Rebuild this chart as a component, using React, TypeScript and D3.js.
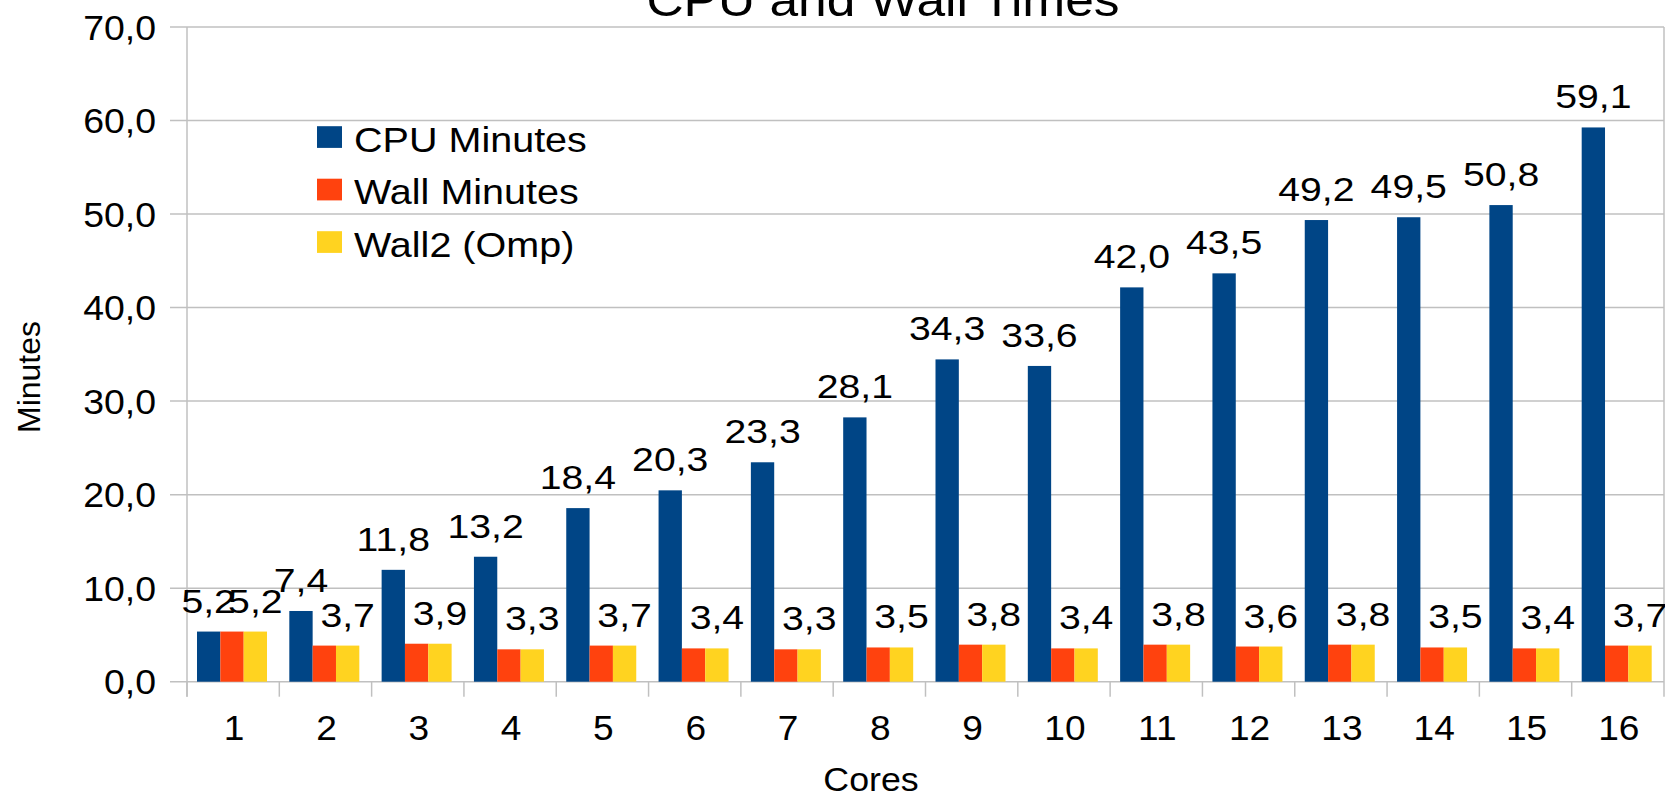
import React from "react";
import * as d3 from "d3";

const categories = ["1","2","3","4","5","6","7","8","9","10","11","12","13","14","15","16"];
const cpuMinutes = [5.2, 7.4, 11.8, 13.2, 18.4, 20.3, 23.3, 28.1, 34.3, 33.6, 42.0, 43.5, 49.2, 49.5, 50.8, 59.1];
const wallMinutes = [5.2, 3.7, 3.9, 3.3, 3.7, 3.4, 3.3, 3.5, 3.8, 3.4, 3.8, 3.6, 3.8, 3.5, 3.4, 3.7];
const wall2Omp = [5.2, 3.7, 3.9, 3.3, 3.7, 3.4, 3.3, 3.5, 3.8, 3.4, 3.8, 3.6, 3.8, 3.5, 3.4, 3.7];
const seriesNames = ["CPU Minutes", "Wall Minutes", "Wall2 (Omp)"];
const seriesColors = ["#004586", "#ff420e", "#ffd320"];
const yTicks = [0, 10, 20, 30, 40, 50, 60, 70];
const labelledSeries = [0, 2];

const W = 1665;
const H = 792;
const FONT = "'Liberation Sans', Arial, sans-serif";

export default function App() {
  const left = 187;
  const right = 1664;
  const top = 27;
  const bottom = 681.7;
  const y = d3.scaleLinear().domain([0, 70]).range([bottom, top]);
  const x = d3.scaleBand<string>().domain(categories).range([left, right]).paddingInner(0).paddingOuter(0);
  const step = x.step();
  const groupOffset = 10;
  const groupWidth = 70;
  const inner = d3.scaleBand<number>().domain([0, 1, 2]).range([0, groupWidth]).padding(0);
  const series = [cpuMinutes, wallMinutes, wall2Omp];
  const fmt = (v: number) => d3.format(".1f")(v).replace(".", ",");
  const grid = "#c0c0c0";

  return (
    <svg width={W} height={H} style={{ position: "absolute", left: 0, top: 0, background: "#fff" }} fontFamily={FONT}>
      <rect x={0} y={0} width={W} height={H} fill="#fff" />
      {yTicks.map((t) => (
        <line key={"g" + t} x1={170} x2={right} y1={y(t)} y2={y(t)} stroke={grid} strokeWidth={1.5} />
      ))}
      <line x1={left} x2={left} y1={top} y2={bottom + 15} stroke={grid} strokeWidth={1.5} />
      <line x1={right} x2={right} y1={top} y2={bottom + 15} stroke={grid} strokeWidth={1.5} />
      {categories.map((c) => (
        <line key={"t" + c} x1={x(c)!} x2={x(c)!} y1={bottom} y2={bottom + 15} stroke={grid} strokeWidth={1.5} />
      ))}
      {yTicks.map((t) => (
        <text key={"yl" + t} transform={`translate(156,${y(t) + 12.5}) scale(1.07,1)`} textAnchor="end" fontSize={35} fill="#000">
          {fmt(t)}
        </text>
      ))}
      {series.map((vals, si) =>
        vals.map((v, i) => {
          const bx = x(categories[i])! + groupOffset + inner(si)!;
          return (
            <rect key={`b${si}-${i}`} x={bx} y={y(v) - 1.5} width={inner.bandwidth()} height={bottom - y(v) + 1.5} fill={seriesColors[si]} />
          );
        })
      )}
      {labelledSeries.map((si) =>
        series[si].map((v, i) => {
          const cx = x(categories[i])! + groupOffset + inner(si)! + inner.bandwidth() / 2;
          return (
            <text key={`l${si}-${i}`} transform={`translate(${cx},${y(v) - 20.5}) scale(1.17,1)`} textAnchor="middle" fontSize={33.5} fill="#000">
              {fmt(v)}
            </text>
          );
        })
      )}
      {categories.map((c) => (
        <text key={"xl" + c} transform={`translate(${x(c)! + step / 2 + 1},740) scale(1.06,1)`} textAnchor="middle" fontSize={35} fill="#000">
          {c}
        </text>
      ))}
      <text transform="translate(871,791) scale(1.1,1)" textAnchor="middle" fontSize={32.5} fill="#000">Cores</text>
      <text transform="translate(40,377) rotate(-90)" textAnchor="middle" fontSize={32} fill="#000">Minutes</text>
      <text transform="translate(883,16) scale(1.12,1)" textAnchor="middle" fontSize={46} fill="#000">CPU and Wall Times</text>
      {seriesNames.map((n, i) => {
        const base = 151.7 + i * 52.5;
        return (
          <g key={"lg" + i}>
            <rect x={317} y={base - 25.5} width={25} height={21.7} fill={seriesColors[i]} />
            <text transform={`translate(354,${base}) scale(1.13,1)`} fontSize={35} fill="#000">{n}</text>
          </g>
        );
      })}
    </svg>
  );
}
